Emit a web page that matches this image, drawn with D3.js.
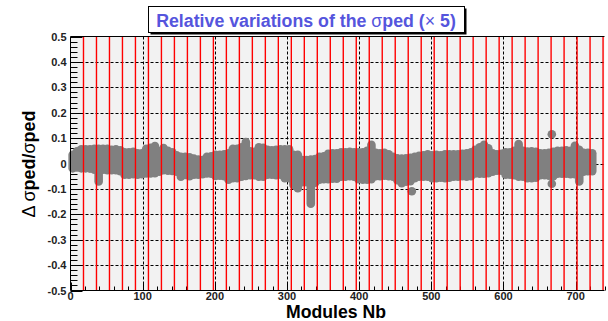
<!DOCTYPE html>
<html><head><meta charset="utf-8">
<script src="https://cdn.jsdelivr.net/npm/d3@7"></script>
<style>body{margin:0;background:#fff}svg{display:block}text{font-family:"Liberation Sans",Arial,sans-serif}</style>
</head><body>
<svg id="c" width="608" height="321"></svg>
<script>
// ---- data (module bins of 6 modules; centre module, upper and lower marker values) ----
const binStart = 3, binStep = 6;
const hiVals = [0.034,0.048,0.056,0.056,0.056,0.058,0.058,0.058,0.058,0.054,
0.056,0.052,0.044,0.044,0.046,0.040,0.040,0.058,0.062,0.069,
0.048,0.061,0.050,0.044,0.032,0.026,0.026,0.024,0.019,0.016,
0.014,0.026,0.028,0.034,0.034,0.036,0.040,0.058,0.058,0.064,
0.084,0.048,0.046,0.064,0.062,0.054,0.052,0.054,0.056,0.056,
0.056,0.034,0.034,0.014,0.014,0.016,0.018,0.026,0.028,0.038,
0.040,0.040,0.044,0.044,0.046,0.044,0.044,0.044,0.050,0.074,
0.042,0.040,0.042,0.036,0.026,0.020,0.019,0.020,0.022,0.026,
0.030,0.032,0.036,0.032,0.034,0.032,0.036,0.036,0.036,0.036,
0.038,0.040,0.044,0.054,0.064,0.074,0.060,0.040,0.036,0.038,
0.044,0.044,0.050,0.077,0.050,0.047,0.048,0.046,0.040,0.040,
0.042,0.046,0.050,0.050,0.052,0.050,0.070,0.054,0.042,0.042,0.040];
const loVals = [-0.019,-0.016,-0.019,-0.019,-0.020,-0.024,-0.071,-0.024,-0.026,-0.026,
-0.026,-0.030,-0.044,-0.044,-0.042,-0.044,-0.042,-0.039,-0.039,-0.038,
-0.032,-0.026,-0.028,-0.029,-0.032,-0.052,-0.045,-0.050,-0.044,-0.044,
-0.042,-0.039,-0.040,-0.049,-0.048,-0.050,-0.064,-0.058,-0.058,-0.052,
-0.049,-0.046,-0.046,-0.052,-0.052,-0.044,-0.044,-0.046,-0.044,-0.058,
-0.058,-0.084,-0.097,-0.074,-0.074,-0.158,-0.076,-0.064,-0.062,-0.062,
-0.060,-0.060,-0.052,-0.052,-0.050,-0.052,-0.062,-0.064,-0.064,-0.062,
-0.050,-0.050,-0.048,-0.050,-0.052,-0.066,-0.078,-0.072,-0.070,-0.058,
-0.052,-0.052,-0.052,-0.058,-0.058,-0.056,-0.058,-0.056,-0.052,-0.052,
-0.050,-0.052,-0.050,-0.039,-0.040,-0.040,-0.038,-0.032,-0.028,-0.028,
-0.044,-0.044,-0.046,-0.052,-0.052,-0.058,-0.058,-0.056,-0.046,-0.046,
-0.048,-0.050,-0.040,-0.040,-0.040,-0.042,-0.042,-0.071,-0.032,-0.030,-0.030];
const outlierModules = [473, 667, 667];
const outlierValues = [-0.109, 0.115, -0.080];
const redStep = 18, redCount = 41;
const xTicks = [0,100,200,300,400,500,600,700];
const yTicks = [-0.5,-0.4,-0.3,-0.2,-0.1,0,0.1,0.2,0.3,0.4,0.5];
const yTickLabels = ["-0.5","-0.4","-0.3","-0.2","-0.1","0","0.1","0.2","0.3","0.4","0.5"];
const xDomain = [0,740], yDomain = [-0.5,0.5];

// ---- drawing ----
const svg = d3.select("#c");
const L = 70.5, R = 604.5, T = 36.5, B = 290.5;
const x = d3.scaleLinear(xDomain,[L,R]);
const y = d3.scaleLinear(yDomain,[B,T]);

svg.append("rect").attr("x",L).attr("y",T).attr("width",R-L).attr("height",B-T).attr("fill","#f2f2f2");

// dashed grid
const grid = svg.append("g").attr("stroke","#000").attr("stroke-width",1).attr("stroke-dasharray","3,2");
grid.selectAll("line.v").data(xTicks.filter(d=>d>0)).join("line")
  .attr("x1",d=>Math.round(x(d))+0.5).attr("x2",d=>Math.round(x(d))+0.5).attr("y1",T).attr("y2",B);
grid.selectAll("line.h").data(yTicks.filter(d=>Math.abs(d)<0.45)).join("line")
  .attr("y1",d=>Math.round(y(d))+0.5).attr("y2",d=>Math.round(y(d))+0.5).attr("x1",L).attr("x2",R);

// ticks (inward)
function ticksY(vals,len){
  svg.append("g").attr("stroke","#000").selectAll("line").data(vals).join("line")
    .attr("x1",L).attr("x2",L+len).attr("y1",d=>Math.round(y(d))+0.5).attr("y2",d=>Math.round(y(d))+0.5);
}
function ticksX(vals,len){
  svg.append("g").attr("stroke","#000").selectAll("line").data(vals).join("line")
    .attr("y1",B).attr("y2",B-len).attr("x1",d=>Math.round(x(d))+0.5).attr("x2",d=>Math.round(x(d))+0.5);
}
const yMinor = d3.range(-0.5,0.5001,0.02).filter(v=>Math.abs(v*10-Math.round(v*10))>1e-6);
const xMinor = d3.range(0,741,20).filter(v=>v%100!==0);
ticksY(yTicks,12); ticksY(yMinor,7);
ticksX(xTicks,8); ticksX(xMinor,4);

// data band
const bins = hiVals.map((h,i)=>({m:binStart+i*binStep,hi:h,lo:loVals[i]}));
svg.append("g").attr("stroke","#808080").attr("stroke-width",8.6).attr("stroke-linecap","round")
  .selectAll("line").data(bins).join("line")
  .attr("x1",d=>x(d.m)).attr("x2",d=>x(d.m)).attr("y1",d=>y(d.hi)).attr("y2",d=>y(d.lo));
svg.append("g").attr("fill","#808080").selectAll("circle").data(outlierModules).join("circle")
  .attr("cx",d=>x(d)).attr("cy",(d,i)=>y(outlierValues[i])).attr("r",4.3);

// red module-group lines
svg.append("g").attr("stroke","#ff0000").attr("stroke-width",1.4).selectAll("line")
  .data(d3.range(1,redCount+1).map(k=>k*redStep)).join("line")
  .attr("x1",d=>x(d)).attr("x2",d=>x(d)).attr("y1",T).attr("y2",B);

// frame
svg.append("path").attr("d",`M${L},${T}H${R}M${L},${T}V${B}H${R}`).attr("stroke","#000").attr("fill","none").attr("stroke-width",1);

// tick labels
svg.append("g").selectAll("text").data(yTicks).join("text")
  .attr("x",L-4).attr("y",d=>y(d)+4).attr("text-anchor","end")
  .attr("font-size",11).attr("font-weight","bold").attr("fill","#222").text((d,i)=>yTickLabels[i]);
svg.append("g").selectAll("text").data(xTicks).join("text")
  .attr("x",d=>x(d)).attr("y",B+9.5).attr("text-anchor","middle")
  .attr("font-size",11).attr("font-weight","bold").attr("fill","#222").text(d=>d);

// axis titles
function fit(sel,w){const l=sel.node().getComputedTextLength();const fs=+sel.attr("font-size");sel.attr("font-size",fs*w/l);}
const xt = svg.append("text").attr("x",336).attr("y",317.5).attr("text-anchor","middle")
  .attr("font-size",16).attr("font-weight","bold").attr("fill","#000").text("Modules Nb");
fit(xt,100);
const yt = svg.append("text").attr("transform","translate(35,164) rotate(-90)").attr("text-anchor","middle")
  .attr("font-size",15).attr("font-weight","bold").attr("fill","#000");
yt.append("tspan").attr("font-weight","normal").text("Δ σ");
yt.append("tspan").text("ped/");
yt.append("tspan").attr("font-weight","normal").text("σ");
yt.append("tspan").text("ped");
fit(yt,107);

// title box
svg.append("rect").attr("x",150.5).attr("y",8.5).attr("width",316).attr("height",26).attr("fill","#000");
svg.append("rect").attr("x",148.5).attr("y",6.5).attr("width",316).attr("height",26).attr("fill","#fff").attr("stroke","#000");
const tt = svg.append("text").attr("x",306).attr("y",26.5).attr("text-anchor","middle")
  .attr("font-size",18).attr("font-weight","bold").attr("fill","#5555dd");
tt.append("tspan").text("Relative variations of the ");
tt.append("tspan").attr("font-weight","normal").text("σ");
tt.append("tspan").text("ped (");
tt.append("tspan").attr("font-weight","normal").text("×");
tt.append("tspan").text(" 5)");
fit(tt,300);
</script>
</body></html>
